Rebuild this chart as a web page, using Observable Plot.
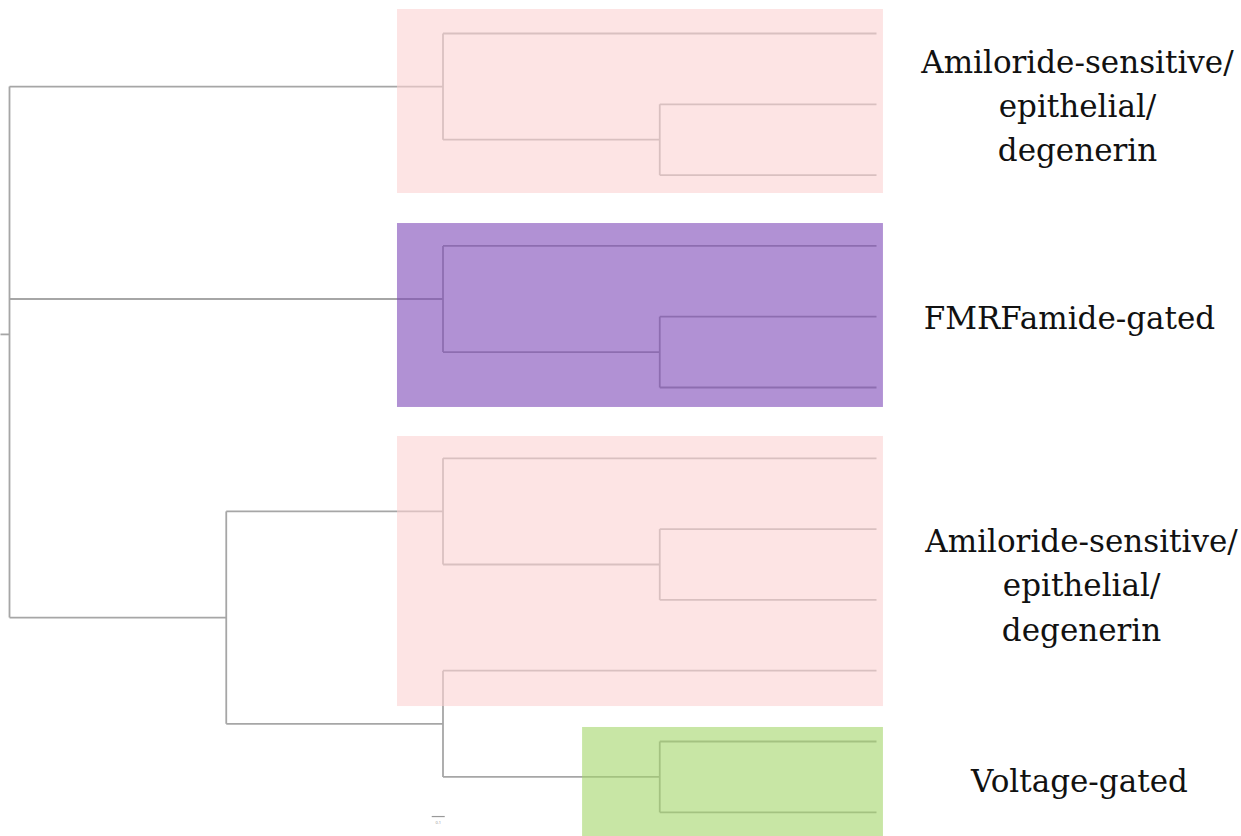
<!DOCTYPE html>
<html>
<head>
<meta charset="utf-8">
<script src="https://cdn.jsdelivr.net/npm/d3@7"></script>
<script src="https://cdn.jsdelivr.net/npm/@observablehq/plot@0.6"></script>
<style>
  html, body { margin: 0; padding: 0; background: #ffffff; }
  #chart svg { display: block; }
</style>
</head>
<body>
<div id="chart"></div>
<script>
// ---- Tree data: edges (parent, child) in drawing order; node depths ----
const treeEdges = [
  ["root", "nA"], ["root", "nB"], ["root", "nC"],
  ["nA", "L1"], ["nA", "nA2"], ["nA2", "L2"], ["nA2", "L3"],
  ["nB", "L4"], ["nB", "nB2"], ["nB2", "L5"], ["nB2", "L6"],
  ["nC", "nC1"], ["nC", "nC2"],
  ["nC1", "L7"], ["nC1", "nC1b"], ["nC1b", "L8"], ["nC1b", "L9"],
  ["nC2", "L10"], ["nC2", "nC2b"], ["nC2b", "L11"], ["nC2b", "L12"]
];
const nodeDepth = {
  root: 0, nA: 0.5, nA2: 0.75, nB: 0.5, nB2: 0.75,
  nC: 0.25, nC1: 0.5, nC1b: 0.75, nC2: 0.5, nC2b: 0.75,
  L1: 1, L2: 1, L3: 1, L4: 1, L5: 1, L6: 1,
  L7: 1, L8: 1, L9: 1, L10: 1, L11: 1, L12: 1
};
const rootStub = 0.0104;

// ---- Clade boxes (depth range, leaf-position range) ----
const boxNames = ["Amiloride-sensitive 1", "FMRFamide-gated", "Amiloride-sensitive 2", "Voltage-gated"];
const boxColors = ["#fcd2d2", "#7d48b8", "#fcd2d2", "#a3d569"];
const boxX1 = [0.4475, 0.4475, 0.4475, 0.661];
const boxX2 = [1.008, 1.008, 1.008, 1.008];
const boxY1 = [-0.339, 2.684, 5.692, 9.802];
const boxY2 = [2.26, 5.282, 9.506, 11.342];

// ---- Clade labels ----
const labelTexts = [
  "Amiloride-sensitive/\nepithelial/\ndegenerin",
  "FMRFamide-gated",
  "Amiloride-sensitive/\nepithelial/\ndegenerin",
  "Voltage-gated"
];
const labelLeafPos = [0.98, 3.97, 7.75, 10.51];
const labelDepthPos = [1.2318, 1.2226, 1.2365, 1.2341];

// ---- Scale bar ----
const scaleBarText = ["0.1"];

// ---- Layout computation (from tree structure) ----
const children = {};
for (const [p, c] of treeEdges) (children[p] ??= []).push(c);
const ypos = {};
let leafCounter = 0;
function place(n) {
  const ch = children[n];
  if (!ch) { ypos[n] = leafCounter++; return ypos[n]; }
  const ys = ch.map(place);
  ypos[n] = d3.mean(ys);
  return ypos[n];
}
place("root");

const horizontals = treeEdges.map(([p, c]) => ({x1: nodeDepth[p], x2: nodeDepth[c], y: ypos[c]}));
horizontals.push({x1: -rootStub, x2: 0, y: ypos.root});
const verticals = Object.entries(children).map(([p, ch]) => ({
  x: nodeDepth[p],
  y1: d3.min(ch, c => ypos[c]),
  y2: d3.max(ch, c => ypos[c])
}));
const boxes = boxNames.map((name, i) => ({
  name, fill: boxColors[i], x1: boxX1[i], x2: boxX2[i], y1: boxY1[i], y2: boxY2[i]
}));
const labels = labelTexts.map((t, i) => ({text: t, x: labelDepthPos[i], y: labelLeafPos[i]}));

const W = 1241, H = 836;
const serif = "DejaVu Serif";
const chart = Plot.plot({
  width: W,
  height: H,
  margin: 0,
  style: {background: "#ffffff"},
  x: {domain: [-9 / 867, (W - 9) / 867], axis: null},
  y: {domain: [-33 / 70.8, (H - 33) / 70.8], reverse: true, axis: null},
  marks: [
    Plot.link(horizontals, {x1: "x1", x2: "x2", y1: "y", y2: "y", stroke: "#a6a6a6", strokeWidth: 1.8}),
    Plot.link(verticals, {x1: "x", x2: "x", y1: "y1", y2: "y2", stroke: "#a6a6a6", strokeWidth: 1.8}),
    Plot.rect(boxes, {x1: "x1", x2: "x2", y1: "y1", y2: "y2", fill: "fill", fillOpacity: 0.6}),
    Plot.link([{x1: 0.487, x2: 0.502, y: 11.06}], {x1: "x1", x2: "x2", y1: "y", y2: "y", stroke: "#999", strokeWidth: 1.2}),
    Plot.text(scaleBarText, {x: 0.4945, y: 11.15, text: d => d, fontSize: 4, fill: "#999"}),
    Plot.text(labels, {
      x: "x", y: "y", text: "text",
      fontFamily: serif,
      fontSize: 31, lineHeight: 1.43,
      textAnchor: "middle", lineAnchor: "middle", fill: "#111"
    })
  ]
});
document.getElementById("chart").appendChild(chart);
</script>
</body>
</html>
